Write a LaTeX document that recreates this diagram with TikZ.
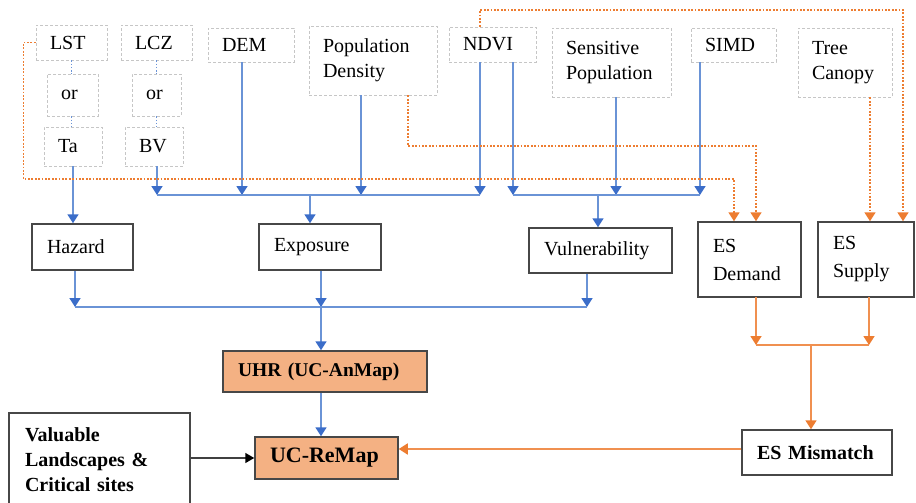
\documentclass[tikz,border=0pt]{standalone}
\usepackage{fontspec}
\setmainfont{Liberation Serif}
\usetikzlibrary{arrows.meta}
\definecolor{lblue}{HTML}{6A93D6}
\definecolor{dblue}{HTML}{3B6DC9}
\definecolor{orng}{HTML}{ED7D31}
\definecolor{ofill}{HTML}{F4B183}
\begin{document}
\begin{tikzpicture}[x=1pt,y=-1pt,
  src/.style={draw=gray!45, dash pattern=on 3pt off 2pt, line width=0.9pt, inner xsep=14pt, inner ysep=0pt, align=left, font=\fontsize{20}{25}\selectfont},
  proc/.style={draw=black!72, line width=1.5pt, inner xsep=15pt, inner ysep=0pt, align=left, font=\fontsize{20}{26}\selectfont},
  hot/.style={proc, fill=ofill},
  bl/.style={draw=lblue, line width=1.7pt},
  barr/.style={bl, -{Triangle[width=11pt,length=9pt,color=dblue]}},
  bdot/.style={draw=lblue, line width=1.6pt, dash pattern=on 1.6pt off 1.6pt},
  ol/.style={draw=orng!85, line width=1.7pt},
  oarr/.style={ol, -{Triangle[width=11pt,length=9pt,color=orng]}},
  odot/.style={draw=orng, line width=1.7pt, dash pattern=on 1.8pt off 1.6pt, -{Triangle[width=11pt,length=9pt,color=orng]}},
  karr/.style={draw=black!75, line width=1.5pt, -{Triangle[width=10pt,length=9pt,color=black]}}
]
\useasboundingbox (0,0) rectangle (916,503);

% source boxes
\node[src, minimum width=71pt, minimum height=35pt, text width=43pt] (LST) at (71.5,42.5) {LST};
\node[src, minimum width=51pt, minimum height=42pt, text width=23pt] (or1) at (72.5,95) {or};
\node[src, minimum width=58pt, minimum height=39pt, text width=30pt] (Ta) at (73,146.5) {Ta};
\node[src, minimum width=71pt, minimum height=35pt, text width=43pt] (LCZ) at (156.5,42.5) {LCZ};
\node[src, minimum width=49pt, minimum height=42pt, text width=21pt] (or2) at (156.5,95) {or};
\node[src, minimum width=58pt, minimum height=39pt, text width=30pt] (BV) at (154,146.5) {BV};
\node[src, minimum width=86pt, minimum height=34pt, text width=58pt] (DEM) at (251,45) {DEM};
\node[src, minimum width=128pt, minimum height=69pt, text width=100pt] (PopDen) at (373,60.5) {Population\\Density};
\node[src, minimum width=87pt, minimum height=35pt, text width=59pt] (NDVI) at (492.5,44.5) {NDVI};
\node[src, minimum width=119pt, minimum height=69pt, text width=91pt] (SensPop) at (611.5,62.5) {Sensitive\\Population};
\node[src, minimum width=85pt, minimum height=34pt, text width=57pt] (SIMD) at (733.5,45) {SIMD};
\node[src, minimum width=94pt, minimum height=69pt, text width=66pt] (Tree) at (845,62.5) {Tree\\Canopy};

% process boxes
\node[proc, minimum width=101pt, minimum height=46pt, text width=71pt] (Haz) at (82.5,247) {Hazard};
\node[proc, minimum width=122pt, minimum height=46pt, text width=92pt] (Exp) at (320,247) {Exposure};
\node[proc, minimum width=143pt, minimum height=45pt, text width=113pt] (Vul) at (600.5,250.5) {Vulnerability};
\node[proc, minimum width=103pt, minimum height=75pt, text width=73pt, font=\fontsize{20}{28}\selectfont] (ESD) at (749.5,259.5) {ES\\Demand};
\node[proc, minimum width=96pt, minimum height=75pt, text width=66pt, font=\fontsize{20}{28}\selectfont] (ESS) at (866,259.5) {ES\\Supply};
\node[hot, minimum width=204pt, minimum height=41pt, text width=174pt, font=\fontsize{19.5}{22}\selectfont\bfseries] (UHR) at (325,371.5) {UHR~(UC-AnMap)};
\node[hot, minimum width=143pt, minimum height=42pt, text width=113pt, font=\fontsize{22}{26}\selectfont\bfseries] (Re) at (326.5,458) {UC-ReMap};
\node[proc, minimum width=181pt, minimum height=94pt, text width=149pt, inner xsep=16pt, font=\fontsize{20}{25}\selectfont\bfseries] (Val) at (99.5,460) {Valuable\\Landscapes~\&\\Critical~sites};
\node[proc, minimum width=150pt, minimum height=45pt, text width=120pt, font=\fontsize{20}{24}\selectfont\bfseries] (Mis) at (817,452.5) {ES~Mismatch};

% dotted "or" links
\draw[bdot] (LST.south) -- (LST.south |- or1.north);
\draw[bdot] (LST.south |- or1.south) -- (LST.south |- Ta.north);
\draw[bdot] (LCZ.south) -- (LCZ.south |- or2.north);
\draw[bdot] (LCZ.south |- or2.south) -- (LCZ.south |- BV.north);

% blue bus coordinates
\coordinate (eb) at (310,195);
\coordinate (vb) at (598,195);
\coordinate (rb) at (321,307);
\coordinate (bv) at ([xshift=3pt]BV.south);
\coordinate (dm) at ([xshift=-9pt]DEM.south);
\coordinate (pd) at ([xshift=-12pt]PopDen.south);
\coordinate (n1) at ([xshift=-12.5pt]NDVI.south);
\coordinate (n2) at ([xshift=20.5pt]NDVI.south);
\coordinate (sp) at ([xshift=4.5pt]SensPop.south);
\coordinate (si) at ([xshift=-33.5pt]SIMD.south);
\coordinate (hz) at ([xshift=-7.5pt]Haz.south);
\coordinate (ex) at ([xshift=1pt]Exp.south);
\coordinate (vu) at ([xshift=-13.5pt]Vul.south);

\draw[barr] (Ta.south) -- (Ta.south |- Haz.north);
\draw[barr] (bv) -- (bv |- eb);
\draw[barr] (dm) -- (dm |- eb);
\draw[barr] (pd) -- (pd |- eb);
\draw[barr] (n1) -- (n1 |- eb);
\draw[bl] (bv |- eb) -- (n1 |- eb);
\draw[barr] (eb) -- (eb |- Exp.north);
\draw[barr] (n2) -- (n2 |- vb);
\draw[barr] (sp) -- (sp |- vb);
\draw[barr] (si) -- (si |- vb);
\draw[bl] (n2 |- vb) -- (si |- vb);
\draw[barr] (vb) -- (vb |- Vul.north);
\draw[barr] (hz) -- (hz |- rb);
\draw[barr] (ex) -- (ex |- rb);
\draw[barr] (vu) -- (vu |- rb);
\draw[bl] (hz |- rb) -- (vu |- rb);
\draw[barr] (rb) -- (rb |- UHR.north);
\draw[barr] (rb |- UHR.south) -- (rb |- Re.north);

% orange dotted inputs
\coordinate (olst) at (734,179);
\coordinate (opd) at (756,146);
\coordinate (otop) at (903,10);
\coordinate (pds) at ([xshift=35pt]PopDen.south);
\coordinate (ndn) at ([xshift=-12.5pt]NDVI.north);
\coordinate (tcs) at ([xshift=25pt]Tree.south);
\draw[odot] (LST.west) -- ++(-12,0) |- (olst) -- (olst |- ESD.north);
\draw[odot] (pds) |- (opd) -- (opd |- ESD.north);
\draw[odot] (ndn) |- (otop) -- (otop |- ESS.north);
\draw[odot] (tcs) -- (tcs |- ESS.north);

% orange solid
\coordinate (mb) at (811,345);
\coordinate (eds) at (756,297);
\coordinate (ess) at (869,297);
\draw[oarr] (eds) -- (eds |- mb);
\draw[oarr] (ess) -- (ess |- mb);
\draw[ol] (eds |- mb) -- (ess |- mb);
\draw[oarr] (mb) -- (mb |- Mis.north);
\draw[oarr] ([yshift=3.5pt]Mis.west) -- ([yshift=3.5pt]Mis.west -| Re.east);

% black
\coordinate (vr) at ([yshift=2pt]Val.east);
\draw[karr] (vr) -- (vr -| Re.west);
\end{tikzpicture}
\end{document}
